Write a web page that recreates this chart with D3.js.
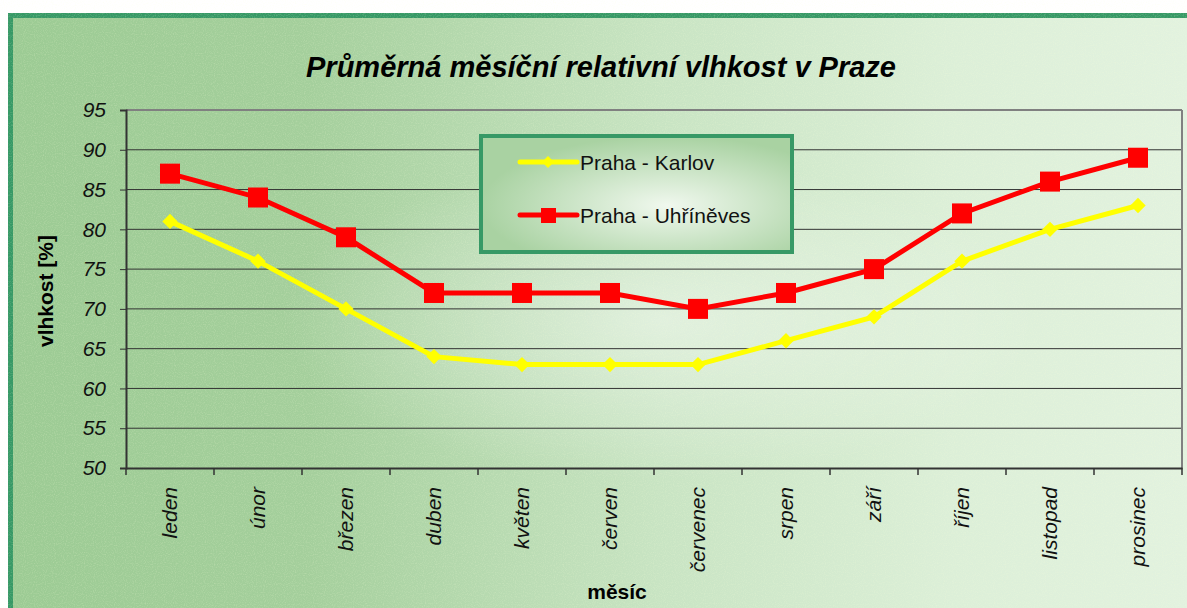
<!DOCTYPE html>
<html>
<head>
<meta charset="utf-8">
<script src="https://cdn.jsdelivr.net/npm/d3@7"></script>
<style>
  body { margin: 0; background: #fff; }
  svg { display: block; font-family: Arial, "Liberation Sans", sans-serif; }
</style>
</head>
<body>
<div id="chart"></div>
<script>
var months = ['leden', 'únor', 'březen', 'duben', 'květen', 'červen', 'červenec', 'srpen', 'září', 'říjen', 'listopad', 'prosinec'];
var karlov = [81, 76, 70, 64, 63, 63, 63, 66, 69, 76, 80, 83];
var uhrineves = [87, 84, 79, 72, 72, 72, 70, 72, 75, 82, 86, 89];
var yTicks = [50, 55, 60, 65, 70, 75, 80, 85, 90, 95];

var width = 1187, height = 608;
var plot = { left: 126, right: 1182, top: 110, bottom: 468 };

var svg = d3.select('#chart').append('svg')
    .attr('width', width).attr('height', height);

var defs = svg.append('defs');
var lin = defs.append('linearGradient').attr('id', 'bgLin')
    .attr('x1', 0).attr('y1', 0).attr('x2', 1).attr('y2', 0);
lin.append('stop').attr('offset', '0%').attr('stop-color', '#9ccb94');
lin.append('stop').attr('offset', '25%').attr('stop-color', '#a4cf9c');
lin.append('stop').attr('offset', '55%').attr('stop-color', '#c8e4c3');
lin.append('stop').attr('offset', '80%').attr('stop-color', '#dcefd8');
lin.append('stop').attr('offset', '100%').attr('stop-color', '#e2f2df');

var rad = defs.append('radialGradient').attr('id', 'bgRad')
    .attr('cx', 0.5).attr('cy', 0.5).attr('r', 0.5);
rad.append('stop').attr('offset', '0%').attr('stop-color', '#ffffff').attr('stop-opacity', 0.45);
rad.append('stop').attr('offset', '100%').attr('stop-color', '#ffffff').attr('stop-opacity', 0);

var legRad = defs.append('radialGradient').attr('id', 'legRad')
    .attr('cx', 0.6).attr('cy', 0.6).attr('r', 0.6);
legRad.append('stop').attr('offset', '0%').attr('stop-color', '#f0f8ee');
legRad.append('stop').attr('offset', '100%').attr('stop-color', '#a9d2a2');

var noise = defs.append('filter').attr('id', 'noise');
noise.append('feTurbulence').attr('type', 'fractalNoise').attr('baseFrequency', 0.9).attr('numOctaves', 1).attr('result', 't');
noise.append('feColorMatrix').attr('type', 'matrix')
    .attr('values', '0 0 0 0 0.95  0 0 0 0 1  0 0 0 0 0.7  0 0 0 1.2 -0.55');

// background + frame
svg.append('rect').attr('x', 8).attr('y', 13).attr('width', width - 8).attr('height', height - 13)
    .attr('fill', '#379966');
svg.append('rect').attr('x', 13).attr('y', 18).attr('width', width - 13).attr('height', height - 18)
    .attr('fill', 'url(#bgLin)');
svg.append('ellipse').attr('cx', 660).attr('cy', 320).attr('rx', 380).attr('ry', 160)
    .attr('fill', 'url(#bgRad)');
svg.append('rect').attr('x', 13).attr('y', 18).attr('width', width - 13).attr('height', height - 18)
    .attr('filter', 'url(#noise)').attr('opacity', 0.45);

var x = d3.scaleBand().domain(months).range([plot.left, plot.right]);
var y = d3.scaleLinear().domain([50, 95]).range([plot.bottom, plot.top]);

// grid lines
svg.append('g').selectAll('line').data(yTicks.slice(1)).enter().append('line')
    .attr('x1', plot.left).attr('x2', plot.right)
    .attr('y1', function(d) { return y(d); }).attr('y2', function(d) { return y(d); })
    .attr('stroke', function(d) { return d === 95 ? '#808080' : '#333'; })
    .attr('stroke-width', function(d) { return d === 95 ? 2 : 1; });
svg.append('line').attr('x1', plot.right).attr('x2', plot.right)
    .attr('y1', plot.top).attr('y2', plot.bottom).attr('stroke', '#808080').attr('stroke-width', 2);

// axes
var yAxis = svg.append('g').attr('transform', 'translate(' + plot.left + ',0)')
    .call(d3.axisLeft(y).tickValues(yTicks).tickSize(6).tickPadding(14));
yAxis.select('.domain').attr('stroke', '#333').attr('stroke-width', 2);
yAxis.selectAll('.tick line').attr('stroke', '#333');
yAxis.selectAll('text').attr('font-size', 21).attr('font-style', 'italic').attr('fill', '#111');

var xAxis = svg.append('g').attr('transform', 'translate(0,' + plot.bottom + ')')
    .call(d3.axisBottom(x).tickSize(0).tickFormat(''));
xAxis.select('.domain').attr('stroke', '#333').attr('stroke-width', 2);
svg.append('g').selectAll('line').data(d3.range(months.length + 1)).enter().append('line')
    .attr('x1', function(i) { return plot.left + i * x.step(); })
    .attr('x2', function(i) { return plot.left + i * x.step(); })
    .attr('y1', plot.bottom).attr('y2', plot.bottom + 7)
    .attr('stroke', '#333').attr('stroke-width', 1.5);

svg.append('g').selectAll('text').data(months).enter().append('text')
    .attr('transform', function(d) {
      return 'translate(' + (x(d) + x.bandwidth() / 2 + 7) + ',' + (plot.bottom + 19) + ') rotate(-90)';
    })
    .attr('text-anchor', 'end')
    .attr('font-size', 21).attr('font-style', 'italic').attr('fill', '#111')
    .text(function(d) { return d; });

// titles
svg.append('text').attr('x', 601).attr('y', 77).attr('text-anchor', 'middle')
    .attr('font-size', 29).attr('font-weight', 'bold').attr('font-style', 'italic')
    .text('Průměrná měsíční relativní vlhkost v Praze');
svg.append('text').attr('transform', 'translate(53,291) rotate(-90)').attr('text-anchor', 'middle')
    .attr('font-size', 21).attr('font-weight', 'bold').text('vlhkost [%]');
svg.append('text').attr('x', 617).attr('y', 599).attr('text-anchor', 'middle')
    .attr('font-size', 21).attr('font-weight', 'bold').text('měsíc');

// series
var line = d3.line()
    .x(function(d, i) { return x(months[i]) + x.bandwidth() / 2; })
    .y(function(d) { return y(d); });

svg.append('path').datum(karlov).attr('d', line)
    .attr('fill', 'none').attr('stroke', '#ffff00').attr('stroke-width', 5);
svg.append('g').selectAll('path').data(karlov).enter().append('path')
    .attr('d', d3.symbol().type(d3.symbolDiamond2).size(150))
    .attr('transform', function(d, i) { return 'translate(' + (x(months[i]) + x.bandwidth() / 2) + ',' + y(d) + ')'; })
    .attr('fill', '#ffff00');

svg.append('path').datum(uhrineves).attr('d', line)
    .attr('fill', 'none').attr('stroke', '#ff0000').attr('stroke-width', 5);
svg.append('g').selectAll('rect').data(uhrineves).enter().append('rect')
    .attr('x', function(d, i) { return x(months[i]) + x.bandwidth() / 2 - 10; })
    .attr('y', function(d) { return y(d) - 10; })
    .attr('width', 20).attr('height', 20).attr('fill', '#ff0000');

// legend
var leg = svg.append('g').attr('transform', 'translate(481,136)');
leg.append('rect').attr('width', 311).attr('height', 116)
    .attr('fill', 'url(#legRad)').attr('stroke', '#379966').attr('stroke-width', 4);
var items = [
  { name: 'Praha - Karlov', color: '#ffff00', y: 26, sym: 'diamond' },
  { name: 'Praha - Uhříněves', color: '#ff0000', y: 79, sym: 'square' }
];
items.forEach(function(it) {
  leg.append('line').attr('x1', 39).attr('x2', 96).attr('y1', it.y).attr('y2', it.y)
      .attr('stroke', it.color).attr('stroke-width', 5).attr('stroke-linecap', 'round');
  if (it.sym === 'square') {
    leg.append('rect').attr('x', 60).attr('y', it.y - 7).attr('width', 15).attr('height', 15).attr('fill', it.color);
  } else {
    leg.append('path').attr('d', d3.symbol().type(d3.symbolDiamond2).size(90))
        .attr('transform', 'translate(67,' + it.y + ')').attr('fill', it.color);
  }
  leg.append('text').attr('x', 99).attr('y', it.y + 8).attr('font-size', 21).attr('fill', '#111')
      .text(it.name);
});
</script>
</body>
</html>
